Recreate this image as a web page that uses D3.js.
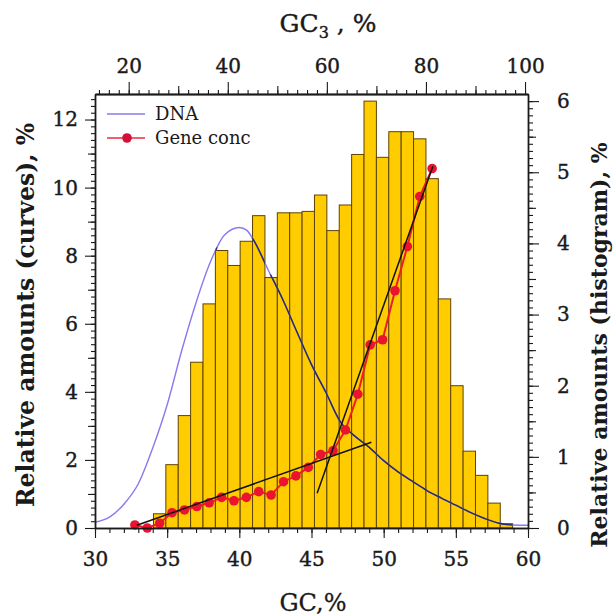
<!DOCTYPE html>
<html lang="en">
<head>
<meta charset="UTF-8">
<script src="https://d3js.org/d3.v7.min.js"></script>
<style>
  body { margin: 0; background: #fff; }
  svg text { font-family: "DejaVu Serif", serif; fill: #1a1a1a; }
</style>
</head>
<body>
<div class="fig"></div>
<script>
// ---- data ----
// histogram of genes, GC3 bins 2.5 % wide (right axis)
const gc3Bins = [25, 27.5, 30, 32.5, 35, 37.5, 40, 42.5, 45, 47.5, 50, 52.5, 55, 57.5, 60,
                 62.5, 65, 67.5, 70, 72.5, 75, 77.5, 80, 82.5, 85, 87.5, 90, 92.5, 95];
const histValues = [0.20, 0.89, 1.58, 2.33, 3.15, 3.90, 3.69, 4.03, 4.39, 3.52, 4.43, 4.43, 4.45, 4.68, 4.18,
                    4.54, 5.25, 6.00, 5.21, 5.57, 5.57, 5.47, 4.91, 3.22, 2.00, 1.08, 0.74, 0.35, 0.06];

// gene concentration at GC3 bin centres (left axis)
const geneGC3 = [21.25, 23.75, 26.25, 28.75, 31.25, 33.75, 36.25, 38.75, 41.25, 43.75, 46.25, 48.75, 51.25,
                 53.75, 56.25, 58.75, 61.25, 63.75, 66.25, 68.75, 71.25, 73.75, 76.25, 78.75, 81.25];
const geneConc = [0.09, 0.0, 0.14, 0.45, 0.53, 0.63, 0.74, 0.90, 0.80, 0.90, 1.07, 0.97, 1.36,
                  1.53, 1.78, 2.16, 2.27, 2.88, 3.93, 5.38, 5.53, 6.97, 8.27, 9.74, 10.56];

// DNA distribution vs GC (left axis)
const dnaGC = [30, 31, 32, 33, 34, 35, 36, 37, 38, 39, 40, 40.5, 41, 42, 43, 44, 45, 46,
               47, 48, 49, 50, 51, 52, 53, 54, 55, 56, 57, 58, 59, 60];
const dnaAmount = [0.17, 0.32, 0.70, 1.30, 2.35, 3.62, 5.20, 6.62, 7.82, 8.62, 8.83, 8.75, 8.45, 7.58, 6.72, 5.75, 4.80, 3.98,
                   3.12, 2.70, 2.37, 1.98, 1.65, 1.37, 1.10, 0.88, 0.67, 0.46, 0.28, 0.14, 0.09, 0.08];

// the two straight fits through gene conc (GC, left axis)
const fitStart = [[32.9, 0.08], [45.39, 1.02]];
const fitEnd = [[49.15, 2.52], [53.41, 10.63]];

const bottomTicks = [30, 35, 40, 45, 50, 55, 60];
const topTicks = [20, 40, 60, 80, 100];
const leftTicks = [0, 2, 4, 6, 8, 10, 12];
const rightTicks = [0, 1, 2, 3, 4, 5, 6];

// ---- layout ----
const width = 615, height = 616;
const plot = { left: 95, right: 528, top: 94, bottom: 528 };

const svg = d3.select(".fig").append("svg")
    .attr("width", width)
    .attr("height", height);

const x = d3.scaleLinear().domain([30, 60]).range([plot.left, plot.right]);
const x3 = d3.scaleLinear().domain([13.2, 100.6]).range([plot.left, plot.right]);
const yL = d3.scaleLinear().domain([0, 12.75]).range([plot.bottom, plot.top]);
const yR = d3.scaleLinear().domain([0, 6.1]).range([plot.bottom, plot.top]);

// histogram bars
const bars = gc3Bins.map((b, i) => ({ b: b, v: histValues[i] }));
const barX = d => x3(d.b);
const barW = d => x3(d.b + 2.5) - x3(d.b);

svg.append("g").selectAll("rect")
    .data(bars)
    .enter()
    .append("rect")
    .attr("x", barX)
    .attr("width", barW)
    .attr("y", d => yR(d.v))
    .attr("height", d => yR(0) - yR(d.v))
    .attr("fill", "#ffcc00")
    .attr("stroke", "#5e4300")
    .attr("stroke-width", 1);

// clip made of the bars: the DNA curve looks dark where it runs over them
svg.append("clipPath").attr("id", "barclip")
    .selectAll("rect")
    .data(bars)
    .enter()
    .append("rect")
    .attr("x", barX)
    .attr("width", barW)
    .attr("y", d => yR(d.v) - 3)
    .attr("height", d => yR(0) - yR(d.v) + 3);

const dna = dnaGC.map((g, i) => [g, dnaAmount[i]]);
const dnaLine = d3.line()
    .x(d => x(d[0]))
    .y(d => yL(d[1]))
    .curve(d3.curveMonotoneX);

svg.append("path")
    .attr("d", dnaLine(dna))
    .attr("fill", "none")
    .attr("stroke", "#8a78f0")
    .attr("stroke-width", 1.4);

svg.append("path")
    .attr("d", dnaLine(dna))
    .attr("clip-path", "url(#barclip)")
    .attr("fill", "none")
    .attr("stroke", "#2c2a6e")
    .attr("stroke-width", 1.5);

// gene concentration
const gene = geneGC3.map((g, i) => [g, geneConc[i]]);
svg.append("path")
    .attr("d", d3.line().x(d => x3(d[0])).y(d => yL(d[1]))(gene))
    .attr("fill", "none")
    .attr("stroke", "#ee1c25")
    .attr("stroke-width", 2);

svg.append("g").selectAll("circle")
    .data(gene)
    .enter()
    .append("circle")
    .attr("cx", d => x3(d[0]))
    .attr("cy", d => yL(d[1]))
    .attr("r", 4.8)
    .attr("fill", "#ea1330");

// fitted straight lines
svg.append("g").selectAll("line")
    .data(fitStart)
    .enter()
    .append("line")
    .attr("x1", d => x(d[0]))
    .attr("y1", d => yL(d[1]))
    .attr("x2", (d, i) => x(fitEnd[i][0]))
    .attr("y2", (d, i) => yL(fitEnd[i][1]))
    .attr("stroke", "#111")
    .attr("stroke-width", 1.5);

// ---- axes ----
const drawAxis = (axisFn, scale, values, size, pos, labels, pad) => {
    const g = svg.append("g")
        .attr("transform", pos)
        .call(axisFn(scale).tickValues(values).tickSize(size).tickSizeOuter(0)
            .tickPadding(pad || 3).tickFormat(labels ? d3.format("d") : ""));
    g.select(".domain").attr("stroke", "#1a1a1a").attr("stroke-width", 1.3);
    g.selectAll(".tick line").attr("stroke", "#1a1a1a").attr("stroke-width", 1.1);
    g.selectAll("text")
        .attr("font-size", 20)
        .attr("font-family", "DejaVu Serif")
        .attr("fill", "#1a1a1a")
        .attr("stroke", "#1a1a1a")
        .attr("stroke-width", 0.4);
    return g;
};

// bottom GC axis
drawAxis(d3.axisBottom, x, d3.range(30, 60.5, 1), 5, `translate(0,${plot.bottom})`, false);
drawAxis(d3.axisBottom, x, bottomTicks, 10, `translate(0,${plot.bottom})`, true, 14);

// top GC3 axis
drawAxis(d3.axisTop, x3, d3.range(14, 100.5, 2), 4, `translate(0,${plot.top})`, false);
drawAxis(d3.axisTop, x3, [30, 50, 70, 90], 8, `translate(0,${plot.top})`, false);
drawAxis(d3.axisTop, x3, topTicks, 12, `translate(0,${plot.top})`, true, 9);

// left axis (curves)
drawAxis(d3.axisLeft, yL, d3.range(0, 12.7, 0.2), 4, `translate(${plot.left},0)`, false);
drawAxis(d3.axisLeft, yL, [1, 3, 5, 7, 9, 11], 7, `translate(${plot.left},0)`, false);
drawAxis(d3.axisLeft, yL, leftTicks, 10, `translate(${plot.left},0)`, true, 7);

// right axis (histogram)
drawAxis(d3.axisRight, yR, d3.range(0, 6.05, 0.1), 5, `translate(${plot.right},0)`, false);
drawAxis(d3.axisRight, yR, [0.5, 1.5, 2.5, 3.5, 4.5, 5.5], 8, `translate(${plot.right},0)`, false);
drawAxis(d3.axisRight, yR, rightTicks, 11, `translate(${plot.right},0)`, true, 18);

// ---- titles ----
const topTitle = svg.append("text")
    .attr("x", 328)
    .attr("y", 32)
    .attr("text-anchor", "middle")
    .attr("font-size", 25)
    .attr("stroke", "#1a1a1a")
    .attr("stroke-width", 0.4);
topTitle.append("tspan").text("GC");
topTitle.append("tspan").attr("font-size", 16).attr("dy", 6).text("3");
topTitle.append("tspan").attr("dy", -6).text(" , %");

svg.append("text")
    .attr("x", 313)
    .attr("y", 611)
    .attr("text-anchor", "middle")
    .attr("font-size", 24)
    .attr("stroke", "#1a1a1a")
    .attr("stroke-width", 0.3)
    .text("GC,%");

svg.append("text")
    .attr("transform", "translate(34,315) rotate(-90)")
    .attr("text-anchor", "middle")
    .attr("font-size", 23.5)
    .attr("font-weight", "bold")
    .text("Relative amounts (curves), %");

svg.append("text")
    .attr("transform", "translate(607,345) rotate(-90)")
    .attr("text-anchor", "middle")
    .attr("font-size", 22)
    .attr("font-weight", "bold")
    .text("Relative amounts (histogram), %");

// ---- legend ----
const legend = svg.append("g");
legend.append("line")
    .attr("x1", 107).attr("x2", 145).attr("y1", 114).attr("y2", 114)
    .attr("stroke", "#8a78f0").attr("stroke-width", 1.6);
legend.append("text")
    .attr("x", 155).attr("y", 120)
    .attr("font-size", 18)
    .text("DNA");
legend.append("line")
    .attr("x1", 107).attr("x2", 145).attr("y1", 138).attr("y2", 138)
    .attr("stroke", "#f2606e").attr("stroke-width", 2);
legend.append("circle")
    .attr("cx", 127).attr("cy", 138).attr("r", 4.8)
    .attr("fill", "#d4103a");
legend.append("text")
    .attr("x", 155).attr("y", 144)
    .attr("font-size", 18)
    .text("Gene conc");
</script>
</body>
</html>
